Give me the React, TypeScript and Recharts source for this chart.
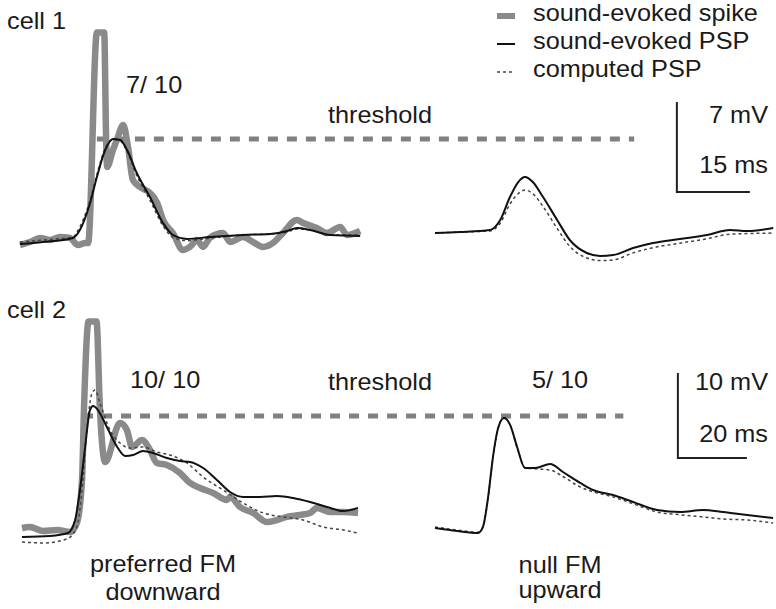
import React from "react";
import { LineChart, Line, XAxis, YAxis } from "recharts";

type P = [number, number]; // [time (ms), membrane potential (mV)]

// ---------- cell 1 (scale: 7 mV, 15 ms) ----------
const c1PrefSpike: P[] = [
  [0, -0.39], [2.05, -0.16], [4.11, 0.16], [6.16, 0.0], [8.22, 0.23], [10.27, 0.16], [11.9, -0.39],
  [13.4, -0.23], [14.0, -0.23], [15.8, 16.14], [17.3, 16.14], [17.7, 7.78], [17.9, 5.68], [19.1, 7.0],
  [19.9, 7.78], [21.2, 8.94], [22.2, 7.23], [23.2, 4.67], [24.7, 4.12], [26.7, 3.66], [28.2, 2.88],
  [29.4, 1.56], [31.4, 0.54], [33.5, -0.78], [34.9, -0.54], [36.4, 0.0], [37.6, -0.54], [39.0, 0.16],
  [41.7, 0.54], [43.2, -0.16], [45.8, 0.23], [47.9, -0.16], [49.9, -0.54], [52.0, -0.23], [54.0, 0.54],
  [56.9, 1.56], [58.2, 1.32], [61.0, 0.93], [63.1, 0.54], [65.8, 1.01], [67.2, 0.39], [69.9, 0.7],
];
const c1PrefPSP: P[] = [
  [0, -0.31], [4.7, -0.16], [10.9, 0.16], [12.3, 0.78], [14.4, 2.88], [15.8, 4.9], [17.5, 7.0],
  [19.1, 7.86], [20.6, 7.78], [22.0, 7.0], [24.0, 5.21], [26.7, 3.34], [29.4, 1.32], [31.4, 0.39],
  [34.3, 0.08], [39.0, 0.23], [45.8, 0.39], [51.4, 0.47], [54.9, 0.7], [56.9, 0.93], [59.6, 0.78],
  [63.7, 0.39], [69.9, 0.31],
];
const c1PrefComputed: P[] = [
  [0, -0.16], [4.7, 0.0], [10.9, 0.23], [11.7, 0.62], [14.4, 3.1], [15.8, 5.1], [17.5, 7.1],
  [19.1, 7.8], [20.6, 7.7], [22.0, 6.9], [24.0, 5.0], [26.7, 3.1], [29.4, 1.1], [31.4, 0.2],
  [34.3, -0.05], [39.0, 0.15], [45.8, 0.39], [51.4, 0.47], [54.9, 0.62], [56.9, 0.85], [59.6, 0.78],
  [63.7, 0.39], [69.9, 0.39],
];
const c1NullPSP: P[] = [
  [0, 0.54], [5.1, 0.62], [11.3, 0.78], [13.4, 1.56], [15.4, 3.34], [17.1, 4.51], [18.5, 4.9],
  [20.1, 4.51], [22.2, 3.34], [25.1, 1.56], [27.7, 0.0], [31.2, -1.01], [33.9, -1.24], [36.6, -1.17],
  [40.7, -0.62], [44.8, -0.23], [50.3, 0.08], [55.9, 0.39], [60.6, 0.78], [64.1, 0.7], [69.5, 0.93],
];
const c1NullComputed: P[] = [
  [0, 0.54], [5.1, 0.62], [11.3, 0.7], [13.4, 1.3], [15.4, 2.8], [17.1, 3.6], [18.5, 3.89],
  [20.1, 3.6], [22.2, 2.6], [25.1, 0.9], [27.7, -0.5], [31.2, -1.4], [33.9, -1.6], [36.6, -1.55],
  [40.7, -1.0], [44.8, -0.6], [50.3, -0.25], [55.9, 0.1], [60.6, 0.45], [64.1, 0.5], [69.5, 0.54],
];
const c1Threshold: P[] = [[15.8, 7.86], [126.2, 7.86]];
const c1ScaleBar = { t: 49.7, v: 3.73, mV: 7, ms: 15 };
const c1Count = "7/ 10";

// ---------- cell 2 (scale: 10 mV, 20 ms) ----------
const c2PrefSpike: P[] = [
  [0, 0.94], [2.3, 1.06], [6.1, 0.59], [10.2, 0.71], [13.9, 0.47], [15.9, 1.53], [17.4, 6.59],
  [18.0, 15.41], [19.3, 25.24], [21.6, 25.24], [22.6, 14.82], [24.1, 8.7], [28.4, 13.29], [30.4, 12.47],
  [31.9, 10.47], [34.8, 11.29], [37.1, 10.12], [39.1, 8.59], [42.0, 8.35], [45.8, 7.41], [48.7, 6.24],
  [51.6, 5.65], [55.4, 5.06], [59.4, 4.24], [60.3, 4.59], [63.2, 3.41], [67.0, 2.71], [71.0, 1.65],
  [73.9, 1.88], [76.8, 2.24], [80.6, 2.47], [83.5, 2.71], [85.5, 3.29], [89.3, 2.82], [93.1, 2.82],
  [97.4, 2.71],
];
const c2PrefPSP: P[] = [
  [0, -0.12], [8.1, 0.0], [13.3, 0.35], [15.4, 1.88], [16.8, 5.41], [18.3, 10.47], [19.7, 14.82],
  [20.6, 15.29], [22.0, 14.82], [24.6, 12.82], [27.6, 10.47], [29.9, 9.41], [32.2, 9.53], [35.1, 10.0],
  [38.0, 9.76], [42.0, 9.17], [45.8, 8.82], [48.7, 8.7], [52.5, 8.0], [56.5, 6.59], [60.3, 5.18],
  [64.1, 4.59], [69.0, 4.59], [73.9, 4.7], [78.6, 4.47], [83.5, 4.0], [88.4, 3.41], [93.1, 2.94],
  [97.4, 3.29],
];
const c2PrefComputed: P[] = [
  [0, -0.71], [6.1, -0.82], [13.0, -0.35], [15.9, 1.06], [17.4, 5.41], [18.8, 12.47], [20.3, 16.82],
  [21.2, 17.18], [22.6, 15.65], [25.5, 12.47], [28.4, 10.94], [31.3, 10.35], [35.1, 10.47], [39.1, 9.88],
  [42.9, 9.53], [47.8, 8.59], [52.5, 6.94], [58.3, 5.41], [64.1, 3.88], [69.9, 2.71], [75.7, 2.24],
  [81.5, 1.88], [87.3, 1.06], [93.1, 0.71], [97.2, 0.35],
];
const c2NullPSP: P[] = [
  [0, 0.94], [6.4, 0.59], [12.5, 0.35], [13.9, 1.06], [15.4, 4.59], [16.8, 9.29], [18.3, 12.7],
  [20.0, 13.88], [21.8, 13.05], [23.8, 10.47], [26.1, 8.0], [29.0, 8.0], [33.4, 8.47], [37.1, 7.53],
  [42.1, 6.24], [45.8, 5.41], [51.6, 4.82], [57.4, 4.0], [64.4, 3.06], [71.1, 2.82], [77.7, 3.06],
  [83.5, 2.82], [90.5, 2.47], [98.0, 2.12],
];
const c2NullComputed: P[] = [
  [0, 1.06], [6.4, 0.7], [12.5, 0.45], [13.9, 1.1], [15.4, 4.5], [16.8, 9.2], [18.3, 12.7],
  [20.0, 13.9], [21.8, 13.0], [23.8, 10.4], [26.1, 8.0], [29.0, 7.9], [33.4, 7.76], [37.1, 7.0],
  [42.1, 5.76], [45.8, 5.2], [51.6, 4.6], [57.4, 3.8], [64.4, 2.82], [71.1, 2.5], [77.7, 2.24],
  [83.5, 2.0], [90.5, 1.88], [98.0, 1.53],
];
const c2Threshold: P[] = [[17.7, 14.12], [174.3, 14.12]];
const c2ScaleBar = { t: 70.4, v: 9.18, mV: 10, ms: 20 };
const c2CountPref = "10/ 10";
const c2CountNull = "5/ 10";

const legendLabels = ["sound-evoked spike", "sound-evoked PSP", "computed PSP"];
const conditionLabels = [["preferred FM", "downward"], ["null FM", "upward"]];

// ---------- layout ----------
const W = 776;
const FONT = "'Liberation Sans', Arial, Helvetica, sans-serif";
const GRAY = "#8a8a8a";
const TH = "#808080";

type Geo = { top: number; height: number; baseY: number; pxPerMv: number; pxPerMs: number; prefX0: number; nullX0: number };
const G1: Geo = { top: 0, height: 290, baseY: 240, pxPerMv: 90 / 7, pxPerMs: 73 / 15, prefX0: 20, nullX0: 435 };
const G2: Geo = { top: 290, height: 319, baseY: 246, pxPerMv: 85 / 10, pxPerMs: 69 / 20, prefX0: 22, nullX0: 435 };

const pts = (a: P[]) => a.map(([t, v]) => ({ t, v }));
const barPts = (b: { t: number; v: number; mV: number; ms: number }) => [
  { t: b.t, v: b.v + b.mV },
  { t: b.t, v: b.v },
  { t: b.t + b.ms, v: b.v },
];

function Cell({ g, spike, psp, comp, nPsp, nComp, thr, bar }: any) {
  const yDom = [-(g.height - g.baseY) / g.pxPerMv, g.baseY / g.pxPerMv];
  const xPref = [-g.prefX0 / g.pxPerMs, (W - g.prefX0) / g.pxPerMs];
  const xNull = [-g.nullX0 / g.pxPerMs, (W - g.nullX0) / g.pxPerMs];
  return (
    <div style={{ position: "absolute", left: 0, top: g.top }}>
      <LineChart width={W} height={g.height} margin={{ top: 0, right: 0, bottom: 0, left: 0 }}>
        <XAxis xAxisId="pref" type="number" dataKey="t" domain={xPref} hide allowDataOverflow />
        <XAxis xAxisId="null" type="number" dataKey="t" domain={xNull} hide allowDataOverflow />
        <YAxis type="number" dataKey="v" domain={yDom} hide allowDataOverflow />
        <Line xAxisId="pref" data={pts(thr)} dataKey="v" stroke={TH} strokeWidth={5} strokeDasharray="10 9" dot={false} activeDot={false} isAnimationActive={false} type="linear" />
        <Line xAxisId="pref" data={pts(spike)} dataKey="v" stroke={GRAY} strokeWidth={6.5} strokeLinejoin="round" dot={false} activeDot={false} isAnimationActive={false} type="monotone" />
        <Line xAxisId="pref" data={pts(comp)} dataKey="v" stroke="#444" strokeWidth={1.5} strokeDasharray="3 3" dot={false} activeDot={false} isAnimationActive={false} type="monotone" />
        <Line xAxisId="pref" data={pts(psp)} dataKey="v" stroke="#111" strokeWidth={2} dot={false} activeDot={false} isAnimationActive={false} type="monotone" />
        <Line xAxisId="null" data={pts(nComp)} dataKey="v" stroke="#444" strokeWidth={1.5} strokeDasharray="3 3" dot={false} activeDot={false} isAnimationActive={false} type="monotone" />
        <Line xAxisId="null" data={pts(nPsp)} dataKey="v" stroke="#111" strokeWidth={2} dot={false} activeDot={false} isAnimationActive={false} type="monotone" />
        <Line xAxisId="null" data={barPts(bar)} dataKey="v" stroke="#222" strokeWidth={2} dot={false} activeDot={false} isAnimationActive={false} type="linear" />
      </LineChart>
    </div>
  );
}

const T = ({ x, y, a = "start", children }: any) => (
  <text transform={`translate(${x},${y}) scale(1.1,1)`} textAnchor={a} fontSize={23} fill="#1a1a1a" fontFamily={FONT}>
    {children}
  </text>
);

export default function App() {
  return (
    <div style={{ position: "absolute", left: 0, top: 0, width: W, height: 609, background: "#fff", overflow: "hidden" }}>
      <Cell g={G1} spike={c1PrefSpike} psp={c1PrefPSP} comp={c1PrefComputed} nPsp={c1NullPSP} nComp={c1NullComputed} thr={c1Threshold} bar={c1ScaleBar} />
      <Cell g={G2} spike={c2PrefSpike} psp={c2PrefPSP} comp={c2PrefComputed} nPsp={c2NullPSP} nComp={c2NullComputed} thr={c2Threshold} bar={c2ScaleBar} />
      <svg width={W} height={609} style={{ position: "absolute", left: 0, top: 0, pointerEvents: "none" }}>
        {/* legend */}
        <rect x={497} y={13} width={18} height={6} fill={GRAY} />
        <line x1={497} x2={515} y1={44} y2={44} stroke="#111" strokeWidth={2} />
        <line x1={497} x2={515} y1={72} y2={72} stroke="#444" strokeWidth={1.5} strokeDasharray="3 3" />
        <T x={533} y={21}>{legendLabels[0]}</T>
        <T x={533} y={49}>{legendLabels[1]}</T>
        <T x={533} y={77}>{legendLabels[2]}</T>
        {/* cell 1 */}
        <T x={7} y={29}>cell 1</T>
        <T x={126} y={93}>{c1Count}</T>
        <T x={328} y={123}>threshold</T>
        <T x={768} y={123} a="end">{`${c1ScaleBar.mV} mV`}</T>
        <T x={768} y={173} a="end">{`${c1ScaleBar.ms} ms`}</T>
        {/* cell 2 */}
        <T x={7} y={318}>cell 2</T>
        <T x={130} y={388}>{c2CountPref}</T>
        <T x={328} y={390}>threshold</T>
        <T x={560} y={388} a="middle">{c2CountNull}</T>
        <T x={768} y={390} a="end">{`${c2ScaleBar.mV} mV`}</T>
        <T x={768} y={442} a="end">{`${c2ScaleBar.ms} ms`}</T>
        <T x={163} y={572} a="middle">{conditionLabels[0][0]}</T>
        <T x={163} y={600} a="middle">{conditionLabels[0][1]}</T>
        <T x={560} y={573} a="middle">{conditionLabels[1][0]}</T>
        <T x={560} y={598} a="middle">{conditionLabels[1][1]}</T>
      </svg>
    </div>
  );
}
